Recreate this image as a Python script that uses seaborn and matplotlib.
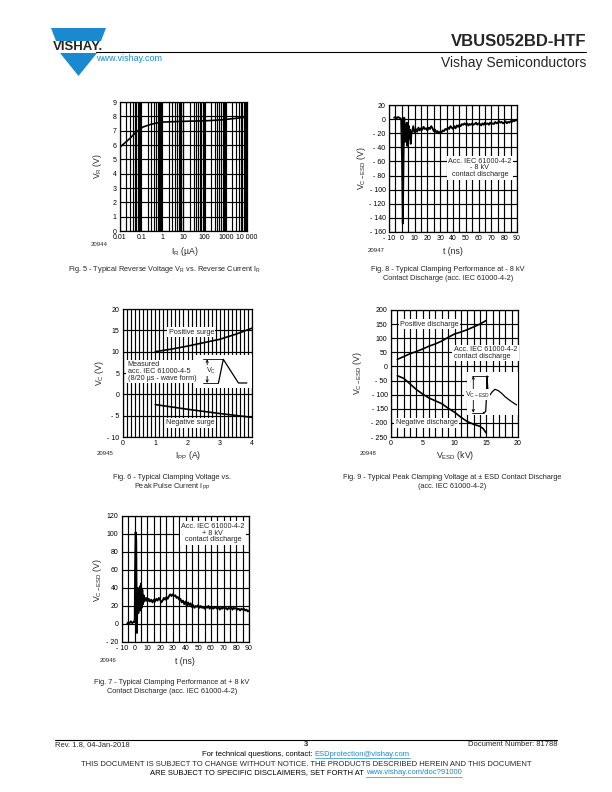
import numpy as np
import pandas as pd
import matplotlib
matplotlib.use('Agg')
import matplotlib.pyplot as plt
import seaborn as sns
from matplotlib.patches import Polygon, Rectangle
from matplotlib.lines import Line2D
from matplotlib.ticker import FixedLocator, MultipleLocator, FixedFormatter, LogLocator, NullFormatter

# ---------------- data ----------------
# Fig. 5 - reverse voltage vs reverse current
fig5_ir = [0.01, 0.028, 0.057, 0.12, 0.245, 0.5, 1.05, 9.2, 118, 730, 10000]
fig5_vr = [5.85, 6.43, 6.9, 7.25, 7.41, 7.53, 7.6, 7.65, 7.69, 7.76, 7.95]
fig5_xticks = [0.01, 0.1, 1, 10, 100, 1000, 10000]
fig5_xlabels = ['0.01', '0.1', '1', '10', '100', '1000', '10 000']
fig5_yticks = [0, 1, 2, 3, 4, 5, 6, 7, 8, 9]

# Fig. 6 - clamping voltage vs peak pulse current
fig6_ipp = [1.0, 1.5, 2.0, 2.5, 3.0, 3.5, 4.0]
fig6_pos = [10.0, 10.6, 11.3, 12.1, 12.9, 14.1, 15.5]
fig6_neg = [-2.4, -2.95, -3.5, -4.0, -4.5, -4.95, -5.4]
fig6_xticks = [0, 1, 2, 3, 4]
fig6_yticks = [-10, -5, 0, 5, 10, 15, 20]
# inset pulse sketch (Fig. 6)
fig6_pulse_x = [2.96, 3.11, 3.58, 3.84]
fig6_pulse_y = [2.66, 8.2, 2.66, 2.66]

# Fig. 7 - clamping at +8 kV
fig7_t = [-6, -5, -4, -3, -2, -1, -0.5, 0, 0.3, 0.7, 1.2, 1.5, 1.8, 2.1, 2.5, 2.9,
          3.3, 3.7, 4.1, 4.5, 5.0, 5.5, 6.0, 6.5, 7.0, 7.5] + list(range(8, 91))
fig7_v = [0, 2, 1, 3, 1, 2, 3, 2, 60, 102, 95, 30, -10, 30, 40, 12,
          35, 20, 42, 15, 45, 18, 38, 22, 32, 25,
          26, 29, 25, 28, 25, 27, 24, 27, 25, 28, 26, 29, 27, 24, 26, 29, 27, 30,
          28, 31, 33, 31, 33, 31, 32, 29, 30, 27, 28, 24, 26, 22, 25, 20, 24, 21,
          23, 19, 21, 18, 20, 19, 21, 18, 20, 18, 19, 17, 19, 18, 20, 17, 19, 18,
          17, 19, 18, 17, 19, 16, 18, 17, 19, 17, 18, 16, 18, 17, 19, 16, 18, 17,
          18, 16, 17, 15, 17, 16, 17, 15, 16, 14, 15]
fig7_xticks = [-10, 0, 10, 20, 30, 40, 50, 60, 70, 80, 90]
fig7_yticks = [-20, 0, 20, 40, 60, 80, 100, 120]

# Fig. 8 - clamping at -8 kV
fig8_t = [-6, -5, -4, -3, -2, -1, -0.5, 0.2, 0.8, 1.4, 1.9, 2.3, 2.7, 3.1, 3.5, 3.9,
          4.3, 4.7, 5.1, 5.5, 6.0, 6.5, 7.0, 7.5] + list(range(8, 91))
fig8_v = [2, 3, 1, 3, 2, 1, 0, -60, -148, -50, 2, -20, -32, -8, -25, -5,
          -38, -12, -30, -10, -28, -15, -35, -20,
          -18, -10, -20, -14, -18, -12, -16, -13, -15, -11, -14, -13, -16, -12,
          -14, -10, -13, -17, -15, -19, -17, -20, -18, -19, -16, -17, -14, -15,
          -12, -14, -10, -12, -14, -10, -13, -9, -11, -8, -10, -7, -8, -6, -8,
          -6, -9, -7, -8, -6, -8, -7, -5, -8, -6, -7, -9, -6, -8, -5, -7, -6,
          -8, -5, -7, -6, -7, -4, -6, -5, -3, -5, -4, -6, -5, -3, -6, -4, -5,
          -3, -4, -2, -3, -1, -2]
fig8_xticks = [-10, 0, 10, 20, 30, 40, 50, 60, 70, 80, 90]
fig8_yticks = [-160, -140, -120, -100, -80, -60, -40, -20, 0, 20]

# Fig. 9 - peak clamping voltage vs ESD voltage
fig9_kv_pos = [1, 2, 3, 4, 5, 6, 7, 8, 9, 10, 11, 12, 13, 14, 15]
fig9_pos = [25, 35, 45, 53, 62, 72, 80, 90, 103, 115, 122, 130, 140, 150, 163]
fig9_kv_neg = [1, 2, 3, 4, 5, 6, 7, 8, 9, 10, 11, 12, 13, 14, 14.5, 15]
fig9_neg = [-33, -42, -62, -82, -98, -112, -122, -132, -148, -162, -180, -195,
            -205, -212, -220, -236]
fig9_xticks = [0, 5, 10, 15, 20]
fig9_yticks = [-250, -200, -150, -100, -50, 0, 50, 100, 150, 200]
# inset waveform sketch (Fig. 9)
fig9_wave_x = [14.54, 14.91, 15.01, 15.12, 15.22, 15.33, 15.59, 15.96, 16.38,
               16.9, 17.43, 17.95, 18.48, 19.0, 19.79]
fig9_wave_y = [-163.8, -160.2, -118.9, -33.8, -71.7, -95.2, -101, -89.4, -81,
               -85.8, -95.2, -107, -116.4, -124.9, -136.6]

# ---------------- style ----------------
sns.set_style('white')
plt.rcParams['font.family'] = ['Liberation Sans', 'DejaVu Sans']
plt.rcParams['mathtext.fontset'] = 'custom'
plt.rcParams['mathtext.rm'] = 'Liberation Sans'
plt.rcParams['mathtext.it'] = 'Liberation Sans'
plt.rcParams['mathtext.default'] = 'regular'
plt.rcParams['path.simplify'] = False

W, H = 612, 792
fig = plt.figure(figsize=(W / 100, H / 100), dpi=100)
fig.patch.set_facecolor('white')

BLUE = '#1a8ad0'
TICK = 5.0
LAB = 6.2
SMALL = 5.2


def rect(l, t, r, b):
    return [l / W, 1 - b / H, (r - l) / W, (b - t) / H]


def fx(x):
    return x / W


def fy(y):
    return 1 - y / H


def fmt(v):
    return f'- {abs(v):g}' if v < 0 else f'{v:g}'


def style_ax(ax):
    ax.set_facecolor('white')
    for s in ax.spines.values():
        s.set_visible(True)
        s.set_color('black')
        s.set_linewidth(0.9)
    ax.tick_params(axis='both', which='both', length=0, pad=2.5, labelsize=TICK,
                   colors='black')
    ax.set_axisbelow(True)
    ax.set_xlabel('')
    ax.set_ylabel('')


def set_ticks(ax, xt, yt, xl=None):
    ax.xaxis.set_major_locator(FixedLocator(xt))
    ax.xaxis.set_major_formatter(FixedFormatter(xl if xl else [fmt(v) for v in xt]))
    ax.yaxis.set_major_locator(FixedLocator(yt))
    ax.yaxis.set_major_formatter(FixedFormatter([fmt(v) for v in yt]))


GRID = dict(color='black', linewidth=0.85)
LINE_LW = 1.2
TRACE_LW = 1.35

# ---------- Fig. 5 ----------
ax5 = fig.add_axes(rect(120, 102, 247, 231))
sns.lineplot(x=fig5_ir, y=fig5_vr, ax=ax5, color='black', lw=LINE_LW,
             estimator=None, sort=False, legend=False)
ax5.set_xscale('log')
ax5.set_xlim(0.01, 10000)
ax5.set_ylim(0, 9)
style_ax(ax5)
set_ticks(ax5, fig5_xticks, fig5_yticks, fig5_xlabels)
ax5.xaxis.set_minor_locator(LogLocator(base=10, subs=np.arange(2, 10)))
ax5.xaxis.set_minor_formatter(NullFormatter())
ax5.grid(True, which='both', axis='x', **GRID)
ax5.grid(True, which='major', axis='y', **GRID)

# ---------- Fig. 8 ----------
ax8 = fig.add_axes(rect(389, 105, 517, 232))
sns.lineplot(x=fig8_t, y=fig8_v, ax=ax8, color='black', lw=TRACE_LW,
             estimator=None, sort=False, legend=False)
ax8.set_xlim(-10, 90)
ax8.set_ylim(-160, 20)
style_ax(ax8)
set_ticks(ax8, fig8_xticks, fig8_yticks)
ax8.xaxis.set_minor_locator(MultipleLocator(5))
ax8.grid(True, which='both', axis='x', **GRID)
ax8.grid(True, which='major', axis='y', **GRID)
ax8.text(61, -69, 'Acc. IEC 61000-4-2\n- 8 kV\ncontact discharge', fontsize=SMALL,
         ha='center', va='center', linespacing=0.95, zorder=5,
         bbox=dict(facecolor='white', edgecolor='none', pad=1.2))

# ---------- Fig. 6 ----------
ax6 = fig.add_axes(rect(123, 309, 252, 437))
sns.lineplot(x=fig6_ipp, y=fig6_pos, ax=ax6, color='black', lw=LINE_LW,
             estimator=None, sort=False, legend=False)
sns.lineplot(x=fig6_ipp, y=fig6_neg, ax=ax6, color='black', lw=LINE_LW,
             estimator=None, sort=False, legend=False)
ax6.set_xlim(0, 4)
ax6.set_ylim(-10, 20)
style_ax(ax6)
set_ticks(ax6, fig6_xticks, fig6_yticks)
ax6.xaxis.set_minor_locator(MultipleLocator(0.125))
ax6.grid(True, which='both', axis='x', **GRID)
ax6.grid(True, which='major', axis='y', **GRID)
ax6.text(2.12, 14.6, 'Positive surge', fontsize=SMALL, ha='center', va='center',
         zorder=5, bbox=dict(facecolor='white', edgecolor='none', pad=1.0))
ax6.text(2.1, -6.7, 'Negative surge', fontsize=SMALL, ha='center', va='center',
         zorder=5, bbox=dict(facecolor='white', edgecolor='none', pad=1.0))
ax6.text(0.14, 5.4, 'Measured\nacc. IEC 61000-4-5\n(8/20 µs - wave form)',
         fontsize=SMALL, ha='left', va='center', linespacing=0.95, zorder=5,
         bbox=dict(facecolor='white', edgecolor='none', pad=1.0))
ax6.add_patch(Rectangle((2.23, 1.5), 1.77, 7.7, facecolor='white', edgecolor='none',
                        zorder=3))
ax6.plot(fig6_pulse_x, fig6_pulse_y, color='black', lw=0.9, zorder=4)
ax6.plot([2.49, 3.09], [8.2, 8.2], color='black', lw=0.6, zorder=4)
ax6.plot([2.49, 2.96], [2.66, 2.66], color='black', lw=0.6, zorder=4)
ax6.annotate('', xy=(2.61, 8.2), xytext=(2.61, 2.66), zorder=4,
             arrowprops=dict(arrowstyle='<->', lw=0.6, color='black',
                             mutation_scale=4, shrinkA=0, shrinkB=0))
ax6.text(2.72, 5.6, 'V$_{C}$', fontsize=SMALL, ha='center', va='center', zorder=5,
         bbox=dict(facecolor='white', edgecolor='none', pad=0.3))

# ---------- Fig. 9 ----------
ax9 = fig.add_axes(rect(391, 310, 518, 437))
sns.lineplot(x=fig9_kv_pos, y=fig9_pos, ax=ax9, color='black', lw=LINE_LW,
             estimator=None, sort=False, legend=False)
sns.lineplot(x=fig9_kv_neg, y=fig9_neg, ax=ax9, color='black', lw=LINE_LW,
             estimator=None, sort=False, legend=False)
ax9.set_xlim(0, 20)
ax9.set_ylim(-250, 200)
style_ax(ax9)
set_ticks(ax9, fig9_xticks, fig9_yticks)
ax9.xaxis.set_minor_locator(MultipleLocator(1))
ax9.grid(True, which='both', axis='x', **GRID)
ax9.grid(True, which='major', axis='y', **GRID)
ax9.text(6.1, 150, 'Positive discharge', fontsize=SMALL, ha='center', va='center',
         zorder=5, bbox=dict(facecolor='white', edgecolor='none', pad=1.0))
ax9.text(5.6, -200, 'Negative discharge', fontsize=SMALL, ha='center', va='center',
         zorder=5, bbox=dict(facecolor='white', edgecolor='none', pad=1.0))
ax9.text(9.9, 48, 'Acc. IEC 61000-4-2\ncontact discharge', fontsize=SMALL,
         ha='left', va='center', linespacing=0.95, zorder=5,
         bbox=dict(facecolor='white', edgecolor='none', pad=1.0))
ax9.add_patch(Rectangle((11.9, -172), 8.1, 152, facecolor='white', edgecolor='none',
                        zorder=3))
ax9.plot(fig9_wave_x, fig9_wave_y, color='black', lw=0.9, zorder=4)
ax9.plot([12.7, 15.3], [-34, -34], color='black', lw=0.6, zorder=4)
ax9.plot([12.7, 14.6], [-163.8, -163.8], color='black', lw=0.6, zorder=4)
ax9.annotate('', xy=(12.96, -34), xytext=(12.96, -163.8), zorder=4,
             arrowprops=dict(arrowstyle='<->', lw=0.6, color='black',
                             mutation_scale=4, shrinkA=0, shrinkB=0))
ax9.text(13.6, -101, 'V$_{C-ESD}$', fontsize=SMALL, ha='center', va='center',
         zorder=5, bbox=dict(facecolor='white', edgecolor='none', pad=0.3))

# ---------- Fig. 7 ----------
ax7 = fig.add_axes(rect(122, 516, 249, 642))
sns.lineplot(x=fig7_t, y=fig7_v, ax=ax7, color='black', lw=TRACE_LW,
             estimator=None, sort=False, legend=False)
ax7.set_xlim(-10, 90)
ax7.set_ylim(-20, 120)
style_ax(ax7)
set_ticks(ax7, fig7_xticks, fig7_yticks)
ax7.xaxis.set_minor_locator(MultipleLocator(5))
ax7.grid(True, which='both', axis='x', **GRID)
ax7.grid(True, which='major', axis='y', **GRID)
ax7.text(61.6, 101, 'Acc. IEC 61000-4-2\n+ 8 kV\ncontact discharge', fontsize=SMALL,
         ha='center', va='center', linespacing=0.95, zorder=5,
         bbox=dict(facecolor='white', edgecolor='none', pad=1.2))

# ---------- axis labels / ids / captions ----------
def ftext(x, y, s, size=LAB, rot=0, ha='center', va='center', **kw):
    return fig.text(fx(x), fy(y), s, fontsize=size, rotation=rot, ha=ha, va=va, **kw)

ftext(97, 166, 'V$_{R}$ (V)', rot=90)
ftext(185, 251, 'I$_{R}$ (µA)')
ftext(99, 245, '20944', size=4.3)

ftext(362, 168, 'V$_{C-ESD}$ (V)', rot=90)
ftext(453, 251, 't (ns)')
ftext(376, 251, '20947', size=4.3)

ftext(100, 373, 'V$_{C}$ (V)', rot=90)
ftext(188, 455, 'I$_{PP}$ (A)')
ftext(105, 453, '20945', size=4.3)

ftext(358, 373, 'V$_{C-ESD}$ (V)', rot=90)
ftext(455, 455, 'V$_{ESD}$ (kV)')
ftext(368, 453, '20948', size=4.3)

ftext(97, 580, 'V$_{C-ESD}$ (V)', rot=90)
ftext(185, 661, 't (ns)')
ftext(108, 660, '20946', size=4.3)

CAP = 5.3
ftext(165, 270, 'Fig. 5 - Typical Reverse Voltage V$_{R}$ vs. Reverse Current I$_{R}$', size=CAP)
ftext(448, 270, 'Fig. 8 - Typical Clamping Performance at - 8 kV', size=CAP)
ftext(448, 278.5, 'Contact Discharge (acc. IEC 61000-4-2)', size=CAP)
ftext(172, 478, 'Fig. 6 - Typical Clamping Voltage vs.', size=CAP)
ftext(172, 486.5, 'Peak Pulse Current I$_{PP}$', size=CAP)
ftext(452, 478, 'Fig. 9 - Typical Peak Clamping Voltage at ± ESD Contact Discharge', size=CAP)
ftext(452, 486.5, '(acc. IEC 61000-4-2)', size=CAP)
ftext(172, 683, 'Fig. 7 - Typical Clamping Performance at + 8 kV', size=CAP)
ftext(172, 691.5, 'Contact Discharge (acc. IEC 61000-4-2)', size=CAP)

# ---------- header ----------
def fpoly(pts, color):
    fig.patches.append(Polygon([(fx(x), fy(y)) for x, y in pts], closed=True,
                               transform=fig.transFigure, facecolor=color,
                               edgecolor='none'))

fpoly([(51, 28), (106, 28), (101, 41), (56, 41)], BLUE)
fpoly([(60, 53), (97, 53), (78.5, 76)], BLUE)
ftext(78.5, 47, 'VISHAY.', size=9.5, weight='bold')
ftext(586, 42, 'VBUS052BD-HTF', size=12, ha='right', weight='bold')
ftext(586, 63, 'Vishay Semiconductors', size=10, ha='right')
ftext(96, 58.5, 'www.vishay.com', size=6.5, ha='left', color=BLUE)
fig.lines.append(Line2D([fx(96), fx(586)], [fy(52), fy(52)], transform=fig.transFigure,
                        color='black', lw=0.8))

# ---------- footer ----------
FOOT = 5.5
fig.lines.append(Line2D([fx(55), fx(557)], [fy(739.5), fy(739.5)],
                        transform=fig.transFigure, color='black', lw=0.8))
ftext(55, 745, 'Rev. 1.8, 04-Jan-2018', size=FOOT, ha='left')
ftext(306, 745, '3', size=FOOT, weight='bold')
ftext(557, 745, 'Document Number: 81788', size=FOOT, ha='right')
ftext(306, 765, 'THIS DOCUMENT IS SUBJECT TO CHANGE WITHOUT NOTICE. THE PRODUCTS DESCRIBED HEREIN AND THIS DOCUMENT', size=FOOT)

renderer = fig.canvas.get_renderer()


def pieces_line(y, pieces, cx, size):
    items = []
    for s, col in pieces:
        t = fig.text(0, fy(y), s, fontsize=size, color=col, ha='left', va='center')
        w = t.get_window_extent(renderer).width
        items.append((t, w, col))
    total = sum(w for _, w, _ in items)
    x = cx - total / 2
    for t, w, col in items:
        t.set_x(fx(x))
        if col != 'black':
            fig.lines.append(Line2D([fx(x), fx(x + w)], [fy(y + 4.2), fy(y + 4.2)],
                                    transform=fig.transFigure, color=col, lw=0.5))
        x += w

pieces_line(754, [('For technical questions, contact: ', 'black'),
                  ('ESDprotection@vishay.com', BLUE)], 306, FOOT)
pieces_line(773, [('ARE SUBJECT TO SPECIFIC DISCLAIMERS, SET FORTH AT ', 'black'),
                  ('www.vishay.com/doc?91000', BLUE)], 306, FOOT)

fig.savefig('out.png', dpi=100)
